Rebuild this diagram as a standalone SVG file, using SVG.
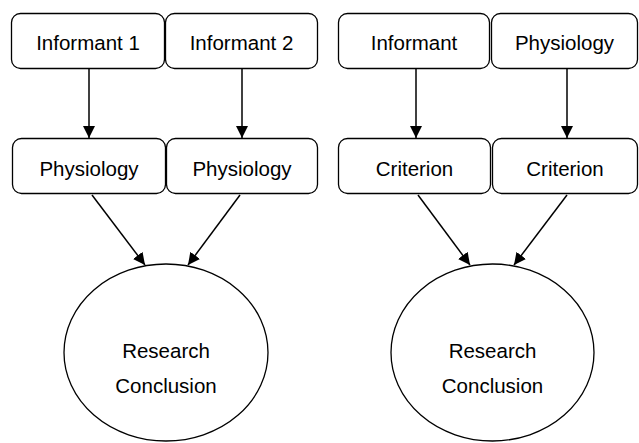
<svg xmlns="http://www.w3.org/2000/svg" width="639" height="443" viewBox="0 0 639 443">
<style>
.box{fill:#fff;stroke:#000;stroke-width:1.3}
.t{font-family:"Liberation Sans",Arial,sans-serif;font-size:20.5px;fill:#000;text-anchor:middle}
.c{stroke:#000;stroke-width:1.5;fill:none}
</style>
<defs>
<marker id="ah" viewBox="0 0 10 10" refX="10" refY="5" markerWidth="8" markerHeight="8" orient="auto" markerUnits="strokeWidth">
<path d="M0,0 L10,5 L0,10 z" fill="#000"/>
</marker>
</defs>
<rect width="639" height="443" fill="#fff"/>
<g id="connectors">
<line class="c" x1="89" y1="68" x2="89" y2="138" marker-end="url(#ah)"/>
<line class="c" x1="242" y1="68" x2="242" y2="138" marker-end="url(#ah)"/>
<line class="c" x1="416" y1="68" x2="416" y2="138" marker-end="url(#ah)"/>
<line class="c" x1="567" y1="68" x2="567" y2="138" marker-end="url(#ah)"/>
<line class="c" x1="92" y1="195" x2="145" y2="265" marker-end="url(#ah)"/>
<line class="c" x1="240" y1="195" x2="188" y2="265" marker-end="url(#ah)"/>
<line class="c" x1="418" y1="195" x2="470" y2="265" marker-end="url(#ah)"/>
<line class="c" x1="567" y1="195" x2="514" y2="265" marker-end="url(#ah)"/>
</g>
<g id="n1"><rect class="box" x="11.5" y="13.5" width="153" height="55" rx="9"/><text class="t" x="88" y="50">Informant 1</text></g>
<g id="n2"><rect class="box" x="165.5" y="13.5" width="152" height="55" rx="9"/><text class="t" x="241.5" y="50">Informant 2</text></g>
<g id="n3"><rect class="box" x="12.5" y="138.5" width="153" height="55" rx="9"/><text class="t" x="89" y="176">Physiology</text></g>
<g id="n4"><rect class="box" x="166.5" y="138.5" width="151" height="55" rx="9"/><text class="t" x="242" y="176">Physiology</text></g>
<g id="n5"><rect class="box" x="338.5" y="13.5" width="151" height="55" rx="9"/><text class="t" x="414" y="50">Informant</text></g>
<g id="n6"><rect class="box" x="491.5" y="13.5" width="146" height="55" rx="9"/><text class="t" x="564.5" y="50">Physiology</text></g>
<g id="n7"><rect class="box" x="338.5" y="138.5" width="152" height="55" rx="9"/><text class="t" x="414.5" y="176">Criterion</text></g>
<g id="n8"><rect class="box" x="492.5" y="138.5" width="145" height="55" rx="9"/><text class="t" x="565" y="176">Criterion</text></g>
<g id="n9"><ellipse class="box" cx="166" cy="352.5" rx="102" ry="88.5"/><text class="t" x="166" y="358">Research</text><text class="t" x="166" y="393">Conclusion</text></g>
<g id="n10"><ellipse class="box" cx="492.5" cy="352.5" rx="101.5" ry="88.5"/><text class="t" x="492.5" y="358">Research</text><text class="t" x="492.5" y="393">Conclusion</text></g>
</svg>
